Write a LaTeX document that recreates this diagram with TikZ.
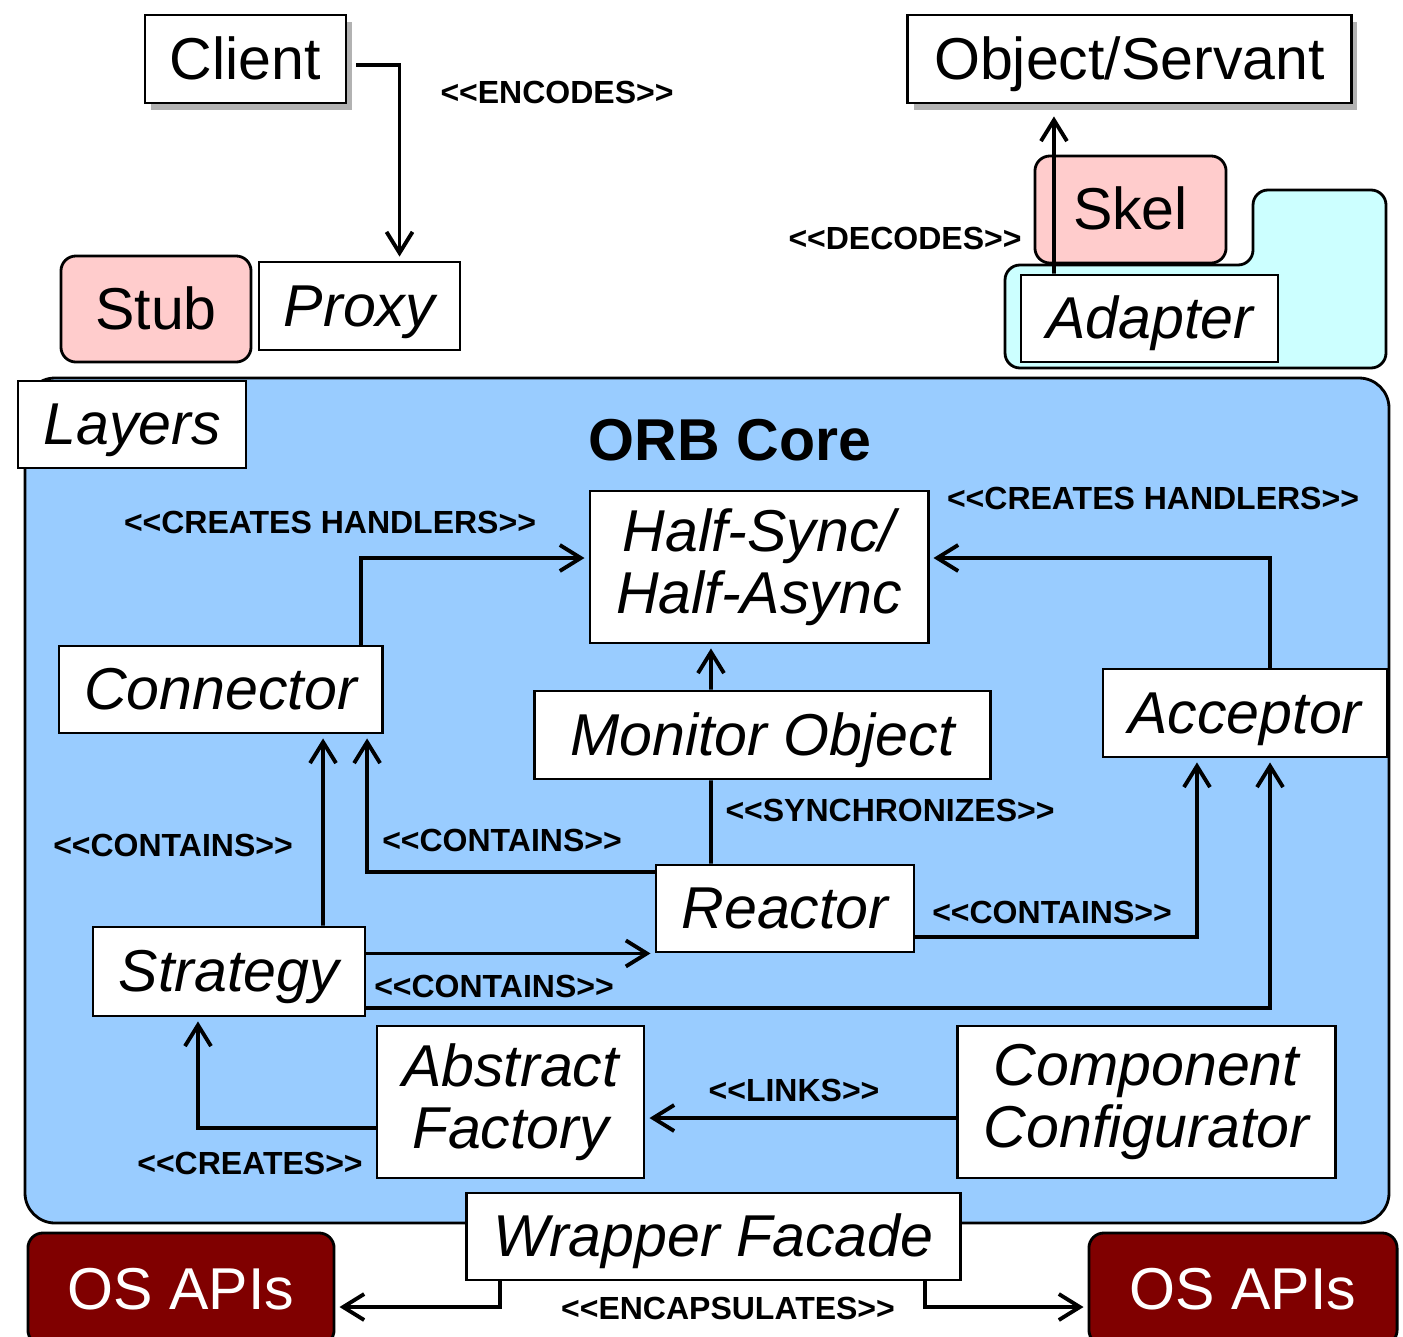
\documentclass[tikz,border=0pt]{standalone}
\usepackage{fontspec}
\setmainfont{Liberation Sans}[Ligatures=TeXOff]
\usetikzlibrary{arrows.meta,shadows}

\definecolor{corebl}{HTML}{99CCFF}
\definecolor{stubpink}{HTML}{FFCCCC}
\definecolor{adaptcyan}{HTML}{CCFFFF}
\definecolor{osred}{HTML}{800000}

\newcommand{\bigtxt}{\fontsize{16.8}{17.6}\selectfont}
\newcommand{\lbltxt}{\fontsize{9.1}{10}\selectfont\bfseries}

\begin{document}
\begin{tikzpicture}[x=0.01cm,y=-0.01cm,
  base/.style={draw, fill=white, line width=0.8pt, inner sep=0pt, font=\bigtxt},
  box/.style={base, text height=15.2pt, text depth=3.6pt},
  tallbox/.style={base, align=center},
  shadowbox/.style={box, drop shadow={shadow xshift=0.06cm, shadow yshift=-0.07cm, fill=black, opacity=0.3}},
  pinkbox/.style={box, fill=stubpink, rounded corners=0.15cm},
  osbox/.style={box, fill=osred, text=white, rounded corners=0.15cm},
  lbl/.style={font=\lbltxt},
  link/.style={line width=1.1pt},
  arr/.style={link, shorten >=0.04cm, -{Straight Barb[length=0.21cm,width=0.26cm]}}]
\useasboundingbox (0,0) rectangle (1403,1336);

\node[shadowbox, minimum width=2.01cm, minimum height=0.88cm] (client) at (245.5,59) {Client};
\node[shadowbox, minimum width=4.43cm, minimum height=0.88cm] (objsrv) at (1129.5,59) {Object/Servant};
\node[pinkbox, minimum width=1.9cm, minimum height=1.06cm] (stub) at (156,309) {Stub};
\node[box, font=\bigtxt\itshape, minimum width=2.01cm, minimum height=0.88cm] (proxy) at (359.5,306) {Proxy};

\draw[fill=adaptcyan, line width=0.8pt, rounded corners=0.15cm]
  (1005,265) -- (1253,265) -- (1253,190) -- (1386,190) -- (1386,368) -- (1005,368) -- cycle;
\node[pinkbox, minimum width=1.91cm, minimum height=1.07cm] (skel) at (1130.5,209.5) {Skel};
\node[box, font=\bigtxt\itshape, minimum width=2.57cm, minimum height=0.87cm] (adapter) at (1149.5,318.5) {Adapter};

\draw[arr] ([xshift=0.09cm,yshift=-0.06cm]client.east) -| ([xshift=0.4cm]proxy.north);
\draw[arr, shorten >=0.12cm] ([xshift=-0.955cm]adapter.north) -- ([xshift=-0.755cm]objsrv.south);
\node[lbl] (lblenc) at (557,92) {<<ENCODES>>};
\node[lbl] (lbldec) at (905,238) {<<DECODES>>};

\draw[fill=corebl, line width=0.8pt, rounded corners=0.3cm] (25,378) rectangle (1389,1223);
\node[box, font=\bigtxt\itshape, minimum width=2.28cm, minimum height=0.87cm] (layers) at (132,424.5) {Layers};
\node[font=\bigtxt\bfseries] (title) at (730,440) {ORB Core};

\node[tallbox, font=\bigtxt\itshape, minimum width=3.38cm, minimum height=1.52cm] (halfsync) at (759,567) {Half-Sync/\\Half-Async};
\node[box, font=\bigtxt\itshape, minimum width=3.23cm, minimum height=0.87cm] (connector) at (220.5,689.5) {Connector};
\node[box, font=\bigtxt\itshape, minimum width=4.55cm, minimum height=0.88cm] (monitor) at (762.5,735) {Monitor Object};
\node[box, font=\bigtxt\itshape, minimum width=2.84cm, minimum height=0.88cm] (acceptor) at (1245,713) {Acceptor};
\node[box, font=\bigtxt\itshape, minimum width=2.58cm, minimum height=0.87cm] (reactor) at (785,908.5) {Reactor};
\node[box, font=\bigtxt\itshape, minimum width=2.72cm, minimum height=0.89cm] (strategy) at (229,971.5) {Strategy};
\node[tallbox, font=\bigtxt\itshape, minimum width=2.67cm, minimum height=1.52cm] (absfactory) at (510.5,1102) {Abstract\\Factory};
\node[tallbox, font=\bigtxt\itshape, minimum width=3.77cm, minimum height=1.52cm] (compconf) at (1146.5,1102) {Component\\Configurator};
\node[box, font=\bigtxt\itshape, minimum width=4.93cm, minimum height=0.87cm] (wrapper) at (713.5,1236.5) {Wrapper Facade};
\node[osbox, minimum width=3.06cm, minimum height=1.12cm] (osleft) at (181,1289) {OS APIs};
\node[osbox, minimum width=3.08cm, minimum height=1.12cm] (osright) at (1243,1289) {OS APIs};

\draw[arr] ([xshift=1.405cm]connector.north) |- ([yshift=0.09cm]halfsync.west);
\draw[arr] ([xshift=0.25cm]acceptor.north) |- ([yshift=0.09cm]halfsync.east);
\draw[arr] ([xshift=-0.515cm]monitor.north) -- ([xshift=-0.48cm]halfsync.south);
\draw[link] ([xshift=-0.74cm]reactor.north) -- ([xshift=-0.515cm]monitor.south);
\draw[arr] ([xshift=0.94cm]strategy.north) -- ([xshift=1.025cm]connector.south);
\draw[arr] ([yshift=0.365cm]reactor.west) -| ([xshift=1.465cm]connector.south);
\draw[arr] (strategy.east |- reactor.south west) -- (reactor.south west);
\draw[arr] ([yshift=-0.285cm]reactor.east) -| ([xshift=-0.48cm]acceptor.south);
\draw[arr] ([yshift=-0.365cm]strategy.east) -| ([xshift=0.25cm]acceptor.south);
\draw[arr] ([yshift=-0.26cm]absfactory.west) -| ([xshift=-0.31cm]strategy.south);
\draw[arr] ([yshift=-0.16cm]compconf.west) -- ([yshift=-0.16cm]absfactory.east);
\draw[arr] ([xshift=-2.135cm]wrapper.south) |- ([yshift=-0.18cm]osleft.east);
\draw[arr] ([xshift=2.115cm]wrapper.south) |- ([yshift=-0.18cm]osright.west);

\node[lbl] (lblchl) at (330,522) {<<CREATES HANDLERS>>};
\node[lbl] (lblchr) at (1153,498) {<<CREATES HANDLERS>>};
\node[lbl] (lblsync) at (890,810) {<<SYNCHRONIZES>>};
\node[lbl] (lblconta) at (173,845) {<<CONTAINS>>};
\node[lbl] (lblcontb) at (502,840) {<<CONTAINS>>};
\node[lbl] (lblcontc) at (1052,912) {<<CONTAINS>>};
\node[lbl] (lblcontd) at (494,986) {<<CONTAINS>>};
\node[lbl] (lbllinks) at (794,1090) {<<LINKS>>};
\node[lbl] (lblcreates) at (250,1163) {<<CREATES>>};
\node[lbl] (lblencap) at (728,1308) {<<ENCAPSULATES>>};
\end{tikzpicture}
\end{document}
